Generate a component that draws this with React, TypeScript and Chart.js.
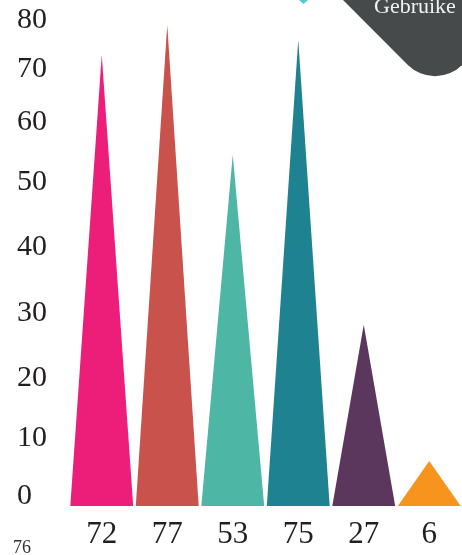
import React, { useEffect, useRef } from "react";
import { Chart, registerables } from "chart.js";

Chart.register(...registerables);

// ---- data ----
const categories = ["72", "77", "53", "75", "27", "6"];
const values = [72.2, 77, 56.2, 74.6, 29, 7.2];
const barColors = ["#ED1E79", "#C9524C", "#4DB6A5", "#1F8290", "#5B375E", "#F7941D"];
const yTickLabels = ["0", "10", "20", "30", "40", "50", "60", "70", "80"];
const yTickAt = [1.6, 10.9, 20.5, 30.9, 41.4, 51.8, 61.4, 69.9, 77.8];
const pageNumber = "76";
const cornerLabel = "Gebruike";

const SERIF = "'Liberation Serif', 'DejaVu Serif', serif";

const trianglePlugin = {
  id: "triangles",
  beforeDatasetDraw(chart: any, args: any) {
    const ctx = chart.ctx;
    const ds = chart.data.datasets[args.index];
    args.meta.data.forEach((el: any, i: number) => {
      const { x, y, base, width } = el.getProps(["x", "y", "base", "width"], true);
      ctx.save();
      ctx.fillStyle = ds.backgroundColor[i];
      ctx.beginPath();
      ctx.moveTo(x - width / 2, base);
      ctx.lineTo(x, y);
      ctx.lineTo(x + width / 2, base);
      ctx.closePath();
      ctx.fill();
      ctx.restore();
    });
    return false;
  },
};

const decorPlugin = {
  id: "decor",
  afterDraw(chart: any) {
    const ctx = chart.ctx;
    ctx.save();
    // dark rounded diamond corner
    ctx.fillStyle = "#464A4B";
    ctx.beginPath();
    ctx.moveTo(293, -50);
    ctx.arcTo(435, 92, 545, -18, 38);
    ctx.lineTo(545, -18);
    ctx.lineTo(545, -50);
    ctx.closePath();
    ctx.fill();
    ctx.fillStyle = "#F2F2F2";
    ctx.font = `22px ${SERIF}`;
    ctx.textAlign = "left";
    ctx.textBaseline = "alphabetic";
    ctx.fillText(cornerLabel, 374, 13);
    // small cyan marker at top
    ctx.fillStyle = "#5BC5DD";
    ctx.beginPath();
    ctx.moveTo(299, 0);
    ctx.lineTo(308, 0);
    ctx.lineTo(303.5, 4);
    ctx.closePath();
    ctx.fill();
    // page number
    ctx.fillStyle = "#333333";
    ctx.font = `18px ${SERIF}`;
    ctx.fillText(pageNumber, 13, 553);
    ctx.restore();
  },
};

export default function App() {
  const canvasRef = useRef<HTMLCanvasElement | null>(null);

  useEffect(() => {
    if (!canvasRef.current) return;
    const chart = new Chart(canvasRef.current, {
      type: "bar",
      data: {
        labels: categories,
        datasets: [
          {
            data: values,
            backgroundColor: barColors,
            barPercentage: 0.96,
            categoryPercentage: 1,
          },
        ],
      },
      options: {
        responsive: false,
        animation: false,
        layout: { padding: { top: 6, left: 17, right: 0, bottom: 0 } },
        plugins: { legend: { display: false }, tooltip: { enabled: false } },
        scales: {
          x: {
            type: "category",
            grid: { display: false, drawTicks: false },
            border: { display: false },
            ticks: {
              font: { family: SERIF, size: 31 },
              color: "#231F20",
              padding: 10,
              maxRotation: 0,
              autoSkip: false,
            },
            afterFit: (s: any) => {
              s.height = 49;
              s.paddingLeft = 0;
              s.paddingRight = 0;
            },
          },
          y: {
            type: "linear",
            min: 0,
            max: 80,
            grid: { display: false, drawTicks: false },
            border: { display: false },
            ticks: {
              font: { family: SERIF, size: 30 },
              color: "#231F20",
              crossAlign: "far",
              autoSkip: false,
              callback: (_v: any, i: number) => yTickLabels[i],
            },
            afterBuildTicks: (s: any) => {
              s.ticks = yTickAt.map((v) => ({ value: v }));
            },
            afterFit: (s: any) => {
              s.width = 52;
              s.paddingTop = 0;
              s.paddingBottom = 0;
            },
          },
        },
      },
      plugins: [trianglePlugin, decorPlugin],
    } as any);
    return () => chart.destroy();
  }, []);

  return (
    <div style={{ position: "absolute", left: 0, top: 0, width: 462, height: 555, background: "#fff" }}>
      <canvas ref={canvasRef} width={462} height={555} />
    </div>
  );
}
